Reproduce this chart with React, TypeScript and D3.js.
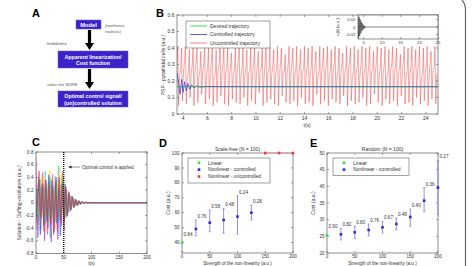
import React from 'react';
import * as d3 from 'd3';

const W = 473;
const H = 266;
const FONT = '"Liberation Sans", Arial, sans-serif';
const AXIS = '#444';

// ---------- B: PSP of pyramidal cells ----------
const bTime = [3.5, 25];
const bTicksX = [4, 6, 8, 10, 12, 14, 16, 18, 20, 22, 24];
const bTicksY = [0, 0.1, 0.2, 0.3, 0.4, 0.5, 0.6];
// one entry per oscillation cycle of the uncontrolled trajectory
const pspHighs = [0.31, 0.28, 0.33, 0.26, 0.30, 0.32, 0.27, 0.31, 0.29, 0.33, 0.25, 0.30, 0.32, 0.28, 0.31, 0.27, 0.33, 0.29, 0.30, 0.26, 0.32, 0.31, 0.28, 0.33, 0.27, 0.30, 0.29, 0.32, 0.26, 0.31, 0.33, 0.28, 0.30, 0.27, 0.32, 0.29, 0.31, 0.26, 0.33, 0.30, 0.28, 0.32, 0.27, 0.31, 0.29, 0.33, 0.26, 0.30, 0.32, 0.28, 0.31, 0.27, 0.33, 0.29, 0.30, 0.26, 0.32, 0.31, 0.28, 0.33, 0.27, 0.30, 0.29, 0.32, 0.26, 0.31, 0.33, 0.28];
const pspPeaks = [0.41, 0.40, 0.41, 0.39, 0.41, 0.40, 0.38, 0.41, 0.40, 0.41, 0.39, 0.41, 0.40, 0.41, 0.37, 0.41, 0.40, 0.41, 0.39, 0.40, 0.41, 0.38, 0.41, 0.40, 0.41, 0.39, 0.41, 0.40, 0.36, 0.41, 0.40, 0.41, 0.39, 0.41, 0.40, 0.41, 0.38, 0.41, 0.40, 0.41, 0.39, 0.41, 0.40, 0.37, 0.41, 0.40, 0.41, 0.39, 0.41, 0.40, 0.41, 0.38, 0.41, 0.40, 0.41, 0.39, 0.41, 0.40, 0.36, 0.41, 0.40, 0.41, 0.39, 0.41, 0.40, 0.41, 0.38, 0.41];
const pspTroughs = [0.05, 0.08, 0.06, 0.10, 0.05, 0.07, 0.12, 0.06, 0.09, 0.05, 0.07, 0.11, 0.06, 0.05, 0.09, 0.07, 0.06, 0.10, 0.05, 0.08, 0.06, 0.13, 0.05, 0.07, 0.09, 0.06, 0.05, 0.11, 0.07, 0.06, 0.08, 0.05, 0.10, 0.06, 0.07, 0.05, 0.12, 0.06, 0.08, 0.05, 0.09, 0.07, 0.06, 0.11, 0.05, 0.08, 0.06, 0.07, 0.10, 0.05, 0.06, 0.12, 0.07, 0.05, 0.09, 0.06, 0.08, 0.05, 0.11, 0.06, 0.07, 0.05, 0.10, 0.06, 0.08, 0.05, 0.09, 0.06];
const pspRebounds = [0.23, 0.25, 0.22, 0.24, 0.26, 0.22, 0.25, 0.23, 0.24, 0.22, 0.26, 0.23, 0.25, 0.22, 0.24, 0.26, 0.23, 0.22, 0.25, 0.24, 0.23, 0.26, 0.22, 0.25, 0.24, 0.23, 0.22, 0.26, 0.24, 0.25, 0.23, 0.22, 0.26, 0.24, 0.23, 0.25, 0.22, 0.24, 0.26, 0.23, 0.25, 0.22, 0.24, 0.23, 0.26, 0.22, 0.25, 0.24, 0.23, 0.22, 0.26, 0.25, 0.23, 0.24, 0.22, 0.26, 0.23, 0.25, 0.24, 0.22, 0.23, 0.26, 0.25, 0.22, 0.24, 0.23, 0.26, 0.24];
const controlledT = [3.5, 3.62, 3.75, 3.88, 4.0, 4.13, 4.27, 4.4, 4.55, 4.72, 4.9, 5.1, 5.4, 5.8, 25];
const controlledV = [0.25, 0.19, 0.12, 0.21, 0.13, 0.195, 0.14, 0.185, 0.15, 0.177, 0.158, 0.17, 0.163, 0.166, 0.165];
const desiredLevel = 0.165;
// inset: control signal u(t)
const uTicksX = [5, 10, 15, 20, 25];
const uTicksY = [-0.02, 0, 0.02];
const uExtrema = [0.03, -0.03, 0.027, -0.024, 0.02, -0.017, 0.014, -0.011, 0.009, -0.007, 0.005, -0.004, 0.003, -0.002, 0.001, 0];
const uStep = 0.15;

// ---------- C: Duffing oscillators ----------
const cTicksX = [0, 50, 100, 150, 200];
const cTicksY = [-0.8, -0.6, -0.4, -0.2, 0, 0.2, 0.4, 0.6, 0.8];
const controlOnset = 50;
const duffingStep = 3;
const duffingPhase = [0, 1.5, 0.75, 2.25, 0.4, 1.9, 1.1, 2.6];
const duffingColors = ['#ff4fc8', '#33d0d6', '#ffd21f', '#ff8a1f', '#9a3ad6', '#3060ff', '#4cc04c', '#e03050'];
const duffing1 = [0.72, -0.35, 0.3, -0.42, 0.48, -0.22, 0.35, -0.5, 0.26, -0.3, 0.45, -0.38, 0.2, -0.48, 0.36, -0.25, 0.5, -0.28, 0.22, -0.17, 0.13, -0.1, 0.08, -0.06, 0.045, -0.035, 0.025, -0.018, 0.013, -0.01, 0.007, -0.005, 0.004, -0.003, 0.002, -0.001, 0];
const duffing2 = [-0.2, 0.4, -0.45, 0.28, -0.3, 0.5, -0.25, 0.32, -0.55, 0.3, -0.2, 0.42, -0.33, 0.58, -0.27, 0.38, -0.35, 0.3, -0.24, 0.18, -0.14, 0.11, -0.08, 0.06, -0.05, 0.035, -0.026, 0.019, -0.014, 0.01, -0.007, 0.005, -0.004, 0.003, -0.002, 0.001, 0];
const duffing3 = [0.35, -0.28, 0.22, -0.38, 0.4, -0.18, 0.27, -0.32, 0.52, -0.26, 0.3, -0.42, 0.25, -0.3, 0.56, -0.22, 0.34, -0.25, 0.2, -0.16, 0.12, -0.09, 0.07, -0.055, 0.04, -0.03, 0.022, -0.016, 0.012, -0.009, 0.006, -0.004, 0.003, -0.002, 0.001, 0, 0];
const duffing4 = [-0.4, 0.25, -0.3, 0.45, -0.26, 0.33, -0.48, 0.2, -0.36, 0.4, -0.28, 0.24, -0.44, 0.3, -0.2, 0.46, -0.3, 0.24, -0.2, 0.15, -0.12, 0.09, -0.07, 0.05, -0.04, 0.03, -0.022, 0.016, -0.012, 0.008, -0.006, 0.004, -0.003, 0.002, -0.001, 0, 0];
const duffing5 = [0.28, -0.55, 0.36, -0.24, 0.3, -0.6, 0.22, -0.4, 0.34, -0.62, 0.26, -0.3, 0.4, -0.58, 0.24, -0.36, 0.3, -0.26, 0.21, -0.16, 0.12, -0.1, 0.075, -0.058, 0.044, -0.033, 0.024, -0.018, 0.013, -0.009, 0.007, -0.005, 0.003, -0.002, 0.001, 0, 0];
const duffing6 = [-0.3, 0.32, -0.5, 0.24, -0.36, 0.28, -0.3, 0.44, -0.26, 0.35, -0.5, 0.28, -0.32, 0.22, -0.52, 0.3, -0.24, 0.27, -0.21, 0.16, -0.13, 0.1, -0.075, 0.058, -0.044, 0.033, -0.025, 0.018, -0.013, 0.01, -0.007, 0.005, -0.003, 0.002, -0.001, 0, 0];
const duffing7 = [0.2, -0.26, 0.38, -0.2, 0.24, -0.34, 0.3, -0.22, 0.4, -0.24, 0.2, -0.3, 0.34, -0.26, 0.28, -0.2, 0.42, -0.22, 0.18, -0.14, 0.11, -0.085, 0.065, -0.05, 0.038, -0.028, 0.02, -0.015, 0.011, -0.008, 0.006, -0.004, 0.003, -0.002, 0.001, 0, 0];
const duffing8 = [-0.25, 0.5, -0.2, 0.3, -0.45, 0.36, -0.22, 0.28, -0.34, 0.22, -0.46, 0.34, -0.24, 0.4, -0.3, 0.26, -0.44, 0.26, -0.2, 0.16, -0.12, 0.095, -0.072, 0.055, -0.042, 0.032, -0.024, 0.017, -0.013, 0.009, -0.006, 0.004, -0.003, 0.002, -0.001, 0, 0];
const duffingSeries = [duffing1, duffing2, duffing3, duffing4, duffing5, duffing6, duffing7, duffing8];

// ---------- D: scale-free network ----------
const costTicksX = [0, 50, 100, 150, 200];
const dTicksY = [40, 50, 60, 70, 80, 90, 100];
const dLinear = { x: 0, y: 40, label: '0.84' };
const dX = [25, 50, 75, 100, 125];
const dMean = [49.1, 53.3, 55.1, 57.4, 60];
const dLow = [44.5, 47.3, 46.2, 45.6, 55.1];
const dHigh = [55.1, 61.8, 62.9, 71.3, 65.1];
const dLabels = ['0.76', '0.58', '0.48', '0.24', '0.28'];
const dUncontrolledX = [150, 175, 200];
const dUncontrolledY = [100, 100, 100];

// ---------- E: random network ----------
const eTicksY = [20, 25, 30, 35, 40, 45, 50];
const eLinear = { x: 0, y: 25.3, label: '0.90' };
const eX = [25, 50, 75, 100, 125, 150, 175, 200];
const eMean = [25.6, 26.2, 26.9, 27.7, 28.7, 30.8, 35.7, 39.6];
const eLow = [23.9, 24.3, 25.1, 26, 27, 28, 32.4, 31.5];
const eHigh = [27.4, 28, 28.7, 29.5, 30.5, 33.2, 39.6, 47.8];
const eLabels = ['0.82', '0.80', '0.76', '0.67', '0.49', '0.40', '0.36', '0.27'];

const GREEN = '#3ee03e';
const BLUE = '#2a2ad8';
const BAR = '#7a72e6';
const RED = '#f03a3a';

const fmt = (v: number) => String(+v.toFixed(3));

type Lin = d3.ScaleLinear<number, number>;

function Axes(props: {
  id: string; x: Lin; y: Lin; xTicks: number[]; yTicks: number[];
  fs?: number; children?: React.ReactNode; overlay?: React.ReactNode;
}) {
  const { id, x, y, xTicks, yTicks, fs = 5, children, overlay } = props;
  const [left, right] = x.range();
  const [bottom, top] = y.range();
  return (
    <g>
      <defs>
        <clipPath id={id}>
          <rect x={left} y={top} width={right - left} height={bottom - top} />
        </clipPath>
      </defs>
      <rect x={left} y={top} width={right - left} height={bottom - top} fill="#fff" />
      <g clipPath={`url(#${id})`}>{children}</g>
      <rect x={left} y={top} width={right - left} height={bottom - top} fill="none" stroke={AXIS} strokeWidth={0.6} />
      {xTicks.map(t => (
        <g key={'x' + t} stroke={AXIS} strokeWidth={0.5}>
          <line x1={x(t)} x2={x(t)} y1={bottom} y2={bottom - 2} />
          <line x1={x(t)} x2={x(t)} y1={top} y2={top + 2} />
        </g>
      ))}
      {yTicks.map(t => (
        <g key={'y' + t} stroke={AXIS} strokeWidth={0.5}>
          <line x1={left} x2={left + 2} y1={y(t)} y2={y(t)} />
          <line x1={right} x2={right - 2} y1={y(t)} y2={y(t)} />
        </g>
      ))}
      {xTicks.map(t => (
        <text key={'xl' + t} x={x(t)} y={bottom + fs + 0.5} fontSize={fs} textAnchor="middle" fill="#333">{fmt(t)}</text>
      ))}
      {yTicks.map(t => (
        <text key={'yl' + t} x={left - 2.5} y={y(t) + fs * 0.35} fontSize={fs} textAnchor="end" fill="#333">{fmt(t)}</text>
      ))}
      {overlay}
    </g>
  );
}

function Star({ cx, cy, color }: { cx: number; cy: number; color: string }) {
  return <rect x={cx - 1.3} y={cy - 1.3} width={2.6} height={2.6} fill={color} />;
}

function arrowPath(cx: number, y0: number, y1: number) {
  const head = 7;
  return `M${cx - 1.6},${y0} L${cx + 1.6},${y0} L${cx + 1.6},${y1 - head} L${cx + 4.5},${y1 - head} L${cx},${y1} L${cx - 4.5},${y1 - head} L${cx - 1.6},${y1 - head} Z`;
}

function PanelA() {
  const box = '#3b22c9';
  const txt = { fill: '#fff', fontWeight: 700, fontSize: 5.3, textAnchor: 'middle' as const };
  return (
    <g>
      <text x={32} y={17} fontSize={11} fontWeight={700}>A</text>
      <rect x={76} y={20} width={25} height={9} fill={box} stroke="#6a5ae0" strokeWidth={0.5} />
      <text x={88.5} y={26.8} {...txt} fontSize={5.8}>Model</text>
      <text x={105} y={27} fontSize={4.3} fill="#555">(nonlinear,</text>
      <text x={105} y={32.5} fontSize={4.3} fill="#555">realistic)</text>
      <path d={arrowPath(89.5, 30, 50)} fill="#000" />
      <text x={47} y={45} fontSize={4.3} fill="#555">find/define</text>
      <rect x={58} y={51} width={70} height={17} fill={box} stroke="#6a5ae0" strokeWidth={0.5} />
      <text x={93} y={58.5} {...txt}>Apparent linearization/</text>
      <text x={93} y={65} {...txt}>Cost function</text>
      <path d={arrowPath(89.5, 69, 89)} fill="#000" />
      <text x={47} y={86} fontSize={4.3} fill="#555">solve the SDRE</text>
      <rect x={58} y={91} width={70} height={16} fill={box} stroke="#6a5ae0" strokeWidth={0.5} />
      <text x={93} y={98} {...txt}>Optimal control signal/</text>
      <text x={93} y={104.5} {...txt}>(un)controlled solution</text>
    </g>
  );
}

function PanelB() {
  const x = d3.scaleLinear().domain(bTime).range([177, 438]);
  const y = d3.scaleLinear().domain([0, 0.6]).range([114, 15]);
  const n = Math.min(pspHighs.length, pspPeaks.length, pspTroughs.length, pspRebounds.length);
  const period = (bTime[1] - bTime[0]) / n;
  const red: [number, number][] = [];
  for (let i = 0; i < n; i++) {
    const t0 = bTime[0] + i * period;
    red.push([t0, pspHighs[i]], [t0 + 0.2 * period, pspPeaks[i]], [t0 + 0.42 * period, pspTroughs[i]], [t0 + 0.68 * period, pspRebounds[i]]);
  }
  const line = d3.line<[number, number]>().x(d => x(d[0])).y(d => y(d[1]));
  const blue = controlledT.map((t, i) => [t, controlledV[i]] as [number, number]);

  const ux = d3.scaleLinear().domain(bTime).range([358, 438]);
  const uy = d3.scaleLinear().domain([-0.032, 0.032]).range([39, 15]);
  const uPts: [number, number][] = uExtrema.map((v, i) => [bTime[0] + i * uStep, v]);
  uPts.push([bTime[1], 0]);
  const uLine = d3.line<[number, number]>().x(d => ux(d[0])).y(d => uy(d[1]));

  return (
    <g>
      <text x={156} y={17} fontSize={11} fontWeight={700}>B</text>
      <Axes id="clipB" x={x} y={y} xTicks={bTicksX} yTicks={bTicksY}>
        <path d={line(red) ?? ''} fill="none" stroke={RED} strokeWidth={0.6} strokeOpacity={0.75} />
        <line x1={x(bTime[0])} x2={x(bTime[1])} y1={y(desiredLevel)} y2={y(desiredLevel)} stroke={GREEN} strokeWidth={1} />
        <path d={line(blue) ?? ''} fill="none" stroke="#3434e0" strokeWidth={0.7} />
      </Axes>
      <text x={307} y={127} fontSize={5} textAnchor="middle" fill="#333">t(s)</text>
      <text transform="translate(165,65) rotate(-90)" fontSize={5} textAnchor="middle" fill="#333">PSP - pyramidal cells (a.u.)</text>
      {/* legend */}
      <g fontSize={5} fill="#333">
        <rect x={186} y={21} width={84} height={27} fill="#fff" stroke={AXIS} strokeWidth={0.5} />
        <line x1={190} x2={207} y1={26} y2={26} stroke={GREEN} strokeWidth={1} />
        <text x={210} y={27.8}>Desired trajectory</text>
        <line x1={190} x2={207} y1={34.5} y2={34.5} stroke="#3434e0" strokeWidth={0.8} />
        <text x={210} y={36.3}>Controlled trajectory</text>
        <line x1={190} x2={207} y1={43} y2={43} stroke={RED} strokeWidth={0.8} strokeOpacity={0.8} />
        <text x={210} y={44.8}>Uncontrolled trajectory</text>
      </g>
      {/* inset with control signal */}
      <Axes id="clipU" x={ux} y={uy} xTicks={uTicksX} yTicks={uTicksY} fs={4.3}>
        <path d={uLine(uPts) ?? ''} fill="none" stroke="#333" strokeWidth={0.6} />
      </Axes>
      <text transform="translate(339,27) rotate(-90)" fontSize={4.3} textAnchor="middle" fill="#333">u(t) (a.u.)</text>
    </g>
  );
}

function PanelC() {
  const x = d3.scaleLinear().domain([0, 200]).range([36, 147]);
  const y = d3.scaleLinear().domain([-0.8, 0.8]).range([253.5, 152]);
  const line = d3.line<[number, number]>().x(d => x(d[0])).y(d => y(d[1]));
  return (
    <g>
      <text x={32} y={146} fontSize={11} fontWeight={700}>C</text>
      <Axes id="clipC" x={x} y={y} xTicks={cTicksX} yTicks={cTicksY} fs={4.6}>
        {duffingSeries.map((s, k) => {
          const pts: [number, number][] = s.map((v, i) => [i * duffingStep + duffingPhase[k] * (i > 0 ? 1 : 0), v]);
          pts.push([200, 0]);
          return <path key={k} d={line(pts) ?? ''} fill="none" stroke={duffingColors[k]} strokeWidth={0.7} strokeOpacity={0.9} />;
        })}
      </Axes>
      <line x1={x(controlOnset)} x2={x(controlOnset)} y1={152} y2={253.5} stroke="#000" strokeWidth={1.3} strokeDasharray="1,1" />
      <line x1={80} x2={70} y1={167} y2={167} stroke="#222" strokeWidth={0.5} />
      <path d="M68,167 L71.5,165.4 L71.5,168.6 Z" fill="#222" />
      <text x={82} y={168.7} fontSize={4.6} fill="#333">Optimal control is applied</text>
      <text x={91.5} y={265.3} fontSize={4.6} textAnchor="middle" fill="#333">t(s)</text>
      <text transform="translate(21,203) rotate(-90)" fontSize={5} textAnchor="middle" fill="#333">Solution - Duffing-oscillators (a.u.)</text>
    </g>
  );
}

function CostPanel(props: {
  id: string; letter: string; letterX: number; title: string; left: number; yDomain: number[]; yTicks: number[];
  linear: { x: number; y: number; label: string };
  xs: number[]; mean: number[]; low: number[]; high: number[]; labels: string[];
  ux?: number[]; uy?: number[]; legendW: number;
}) {
  const { id, letter, letterX, title, left, yDomain, yTicks, linear, xs, mean, low, high, labels, ux, uy, legendW } = props;
  const x = d3.scaleLinear().domain([0, 200]).range([left, left + 111]);
  const y = d3.scaleLinear().domain(yDomain).range([253, 153]);
  const uLine = d3.line<number>().x(d => x(d)).y((_, i) => y(uy ? uy[i] : 0));
  const lx = left + 6;
  const overlay = (
    <g>
      {ux && uy && (
        <g>
          <path d={uLine(ux) ?? ''} fill="none" stroke={RED} strokeWidth={0.6} strokeDasharray="1,1" />
          {ux.map((v, i) => <Star key={i} cx={x(v)} cy={y(uy[i])} color={RED} />)}
        </g>
      )}
      {xs.map((v, i) => (
        <g key={i}>
          <line x1={x(v)} x2={x(v)} y1={y(low[i])} y2={y(high[i])} stroke={BAR} strokeWidth={0.8} />
          <line x1={x(v) - 1.2} x2={x(v) + 1.2} y1={y(low[i])} y2={y(low[i])} stroke={BAR} strokeWidth={0.6} />
          <line x1={x(v) - 1.2} x2={x(v) + 1.2} y1={y(high[i])} y2={y(high[i])} stroke={BAR} strokeWidth={0.6} />
          <Star cx={x(v)} cy={y(mean[i])} color={BLUE} />
          <text x={x(v) + 1.5} y={y(high[i]) - 2} fontSize={4.6} fill="#333">{labels[i]}</text>
        </g>
      ))}
      <Star cx={x(linear.x)} cy={y(linear.y)} color={GREEN} />
      <text x={x(linear.x) + 1.5} y={y(linear.y) - 7} fontSize={4.6} fill="#333">{linear.label}</text>
    </g>
  );
  return (
    <g>
      <text x={letterX} y={147} fontSize={11} fontWeight={700}>{letter}</text>
      <Axes id={id} x={x} y={y} xTicks={costTicksX} yTicks={yTicks} overlay={overlay} fs={4.6} />
      <text x={left + 55.5} y={150.5} fontSize={5} textAnchor="middle" fill="#333">{title}</text>
      <text x={left + 55.5} y={265} fontSize={4.6} textAnchor="middle" fill="#333">Strength of the non-linearity (a.u.)</text>
      <text transform={`translate(${left - 12},203) rotate(-90)`} fontSize={5} textAnchor="middle" fill="#333">Cost (a.u.)</text>
      <g fontSize={5} fill="#333">
        <rect x={lx} y={158} width={legendW} height={ux ? 25 : 17.5} fill="#fff" stroke={AXIS} strokeWidth={0.5} />
        <Star cx={lx + 11} cy={162.7} color={GREEN} />
        <text x={lx + 20} y={164.5}>Linear</text>
        <Star cx={lx + 11} cy={169.6} color={BLUE} />
        <text x={lx + 20} y={171.4}>Nonlinear - controlled</text>
        {ux && <Star cx={lx + 11} cy={176.5} color={RED} />}
        {ux && <text x={lx + 20} y={178.3}>Nonlinear - uncontrolled</text>}
      </g>
    </g>
  );
}

export default function App() {
  return (
    <svg width={W} height={H} style={{ position: 'absolute', left: 0, top: 0, background: '#fff' }} fontFamily={FONT}>
      <rect width={W} height={H} fill="#fff" />
      <PanelA />
      <PanelB />
      <PanelC />
      <CostPanel id="clipD" letter="D" letterX={159} title="Scale-free (N = 100)" left={182} yDomain={[33, 100]} yTicks={dTicksY}
        linear={dLinear} xs={dX} mean={dMean} low={dLow} high={dHigh} labels={dLabels}
        ux={dUncontrolledX} uy={dUncontrolledY} legendW={82} />
      <CostPanel id="clipE" letter="E" letterX={310} title="Random (N = 100)" left={327} yDomain={[20, 50]} yTicks={eTicksY}
        linear={eLinear} xs={eX} mean={eMean} low={eLow} high={eHigh} labels={eLabels} legendW={76} />
      <path d="M462,0 Q465.5,4 465.5,10 L465.5,266" fill="none" stroke="#666" strokeWidth={1.2} />
    </svg>
  );
}
